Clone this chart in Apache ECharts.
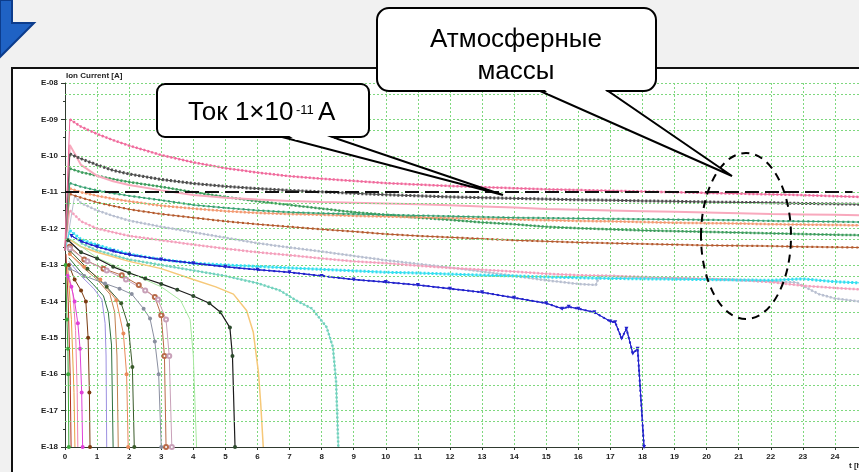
<!DOCTYPE html>
<html>
<head>
<meta charset="utf-8">
<script src="https://cdn.jsdelivr.net/npm/echarts@6/dist/echarts.min.js"></script>
<style>
html,body{margin:0;padding:0;background:#f1f1f1;}
#chart{width:859px;height:472px;}
</style>
</head>
<body>
<div id="chart"></div>
<script>
// time, h (shared by the long-lived masses)
var tLong=[0,0.15,0.5,1,1.5,2,3,4,5,6,7,8,9,10,11,12,13,14,15,16,17,18,19,20,21,22,23,24,24.75];
// all values are log10 of ion current [A]
var pinkTop=[-12.6,-9.0,-9.2,-9.4,-9.57,-9.72,-9.98,-10.18,-10.34,-10.46,-10.56,-10.63,-10.69,-10.75,-10.79,-10.83,-10.86,-10.89,-10.92,-10.94,-10.96,-10.98,-11.0,-11.02,-11.04,-11.06,-11.08,-11.11,-11.13];
var darkGrey=[-12.6,-9.95,-10.08,-10.25,-10.4,-10.5,-10.65,-10.76,-10.84,-10.9,-10.95,-10.99,-11.03,-11.07,-11.1,-11.13,-11.15,-11.17,-11.19,-11.21,-11.22,-11.24,-11.25,-11.27,-11.28,-11.29,-11.31,-11.32,-11.33];
var lightPink=[-12.6,-9.7,-10.25,-10.55,-10.7,-10.8,-10.95,-11.08,-11.15,-11.2,-11.24,-11.27,-11.29,-11.31,-11.33,-11.36,-11.39,-11.42,-11.46,-11.48,-11.5,-11.52,-11.54,-11.56,-11.58,-11.6,-11.61,-11.62,-11.63];
var greenCirc=[-12.6,-10.35,-10.45,-10.55,-10.64,-10.72,-10.85,-11.0,-11.13,-11.25,-11.35,-11.45,-11.55,-11.62,-11.7,-11.76,-11.83,-11.88,-11.95,-11.99,-12.02,-12.05,-12.07,-12.09,-12.11,-12.13,-12.15,-12.17,-12.18];
var greenT=[-12.6,-10.75,-10.85,-10.95,-11.03,-11.1,-11.22,-11.35,-11.43,-11.5,-11.55,-11.58,-11.6,-11.62,-11.64,-11.66,-11.68,-11.7,-11.71,-11.72,-11.73,-11.74,-11.75,-11.76,-11.77,-11.79,-11.8,-11.81,-11.82];
var salmon=[-12.6,-10.9,-11.0,-11.1,-11.18,-11.25,-11.37,-11.45,-11.52,-11.57,-11.6,-11.62,-11.65,-11.67,-11.69,-11.71,-11.73,-11.75,-11.77,-11.79,-11.8,-11.82,-11.84,-11.85,-11.86,-11.88,-11.89,-11.9,-11.91];
var brownT=[-12.6,-11.05,-11.15,-11.28,-11.38,-11.47,-11.6,-11.7,-11.8,-11.88,-11.95,-12.02,-12.08,-12.15,-12.2,-12.24,-12.28,-12.32,-12.35,-12.38,-12.4,-12.42,-12.44,-12.46,-12.47,-12.48,-12.5,-12.51,-12.52];
var pinkLow=[-12.6,-11.5,-11.8,-12.0,-12.1,-12.2,-12.32,-12.44,-12.55,-12.65,-12.73,-12.82,-12.9,-12.95,-13.02,-13.08,-13.13,-13.18,-13.24,-13.28,-13.3,-13.33,-13.36,-13.38,-13.41,-13.47,-13.57,-13.63,-13.67];
var cyan=[-12.6,-12.05,-12.3,-12.45,-12.58,-12.7,-12.85,-12.95,-13.0,-13.04,-13.08,-13.12,-13.16,-13.2,-13.22,-13.25,-13.28,-13.3,-13.33,-13.35,-13.37,-13.38,-13.39,-13.4,-13.41,-13.42,-13.38,-13.46,-13.49];

var tGrey=[0.02,0.3,0.5,1,1.5,2,3,4,5,6,7,8,9,10,11,12,13,14,15,16,16.55,16.65,17,18,19,20,21,22,22.8,23.5,24,24.75];
var grey=[-12.6,-11.1,-11.3,-11.5,-11.65,-11.78,-11.95,-12.1,-12.25,-12.4,-12.52,-12.63,-12.75,-12.87,-12.97,-13.07,-13.18,-13.3,-13.42,-13.52,-13.55,-13.3,-13.3,-13.33,-13.35,-13.38,-13.42,-13.45,-13.48,-13.8,-13.92,-14.0];

var tBlue=[0.2,0.5,1,1.5,2,3,4,5,6,7,8,9,10,11,12,13,14,15,15.5,15.7,16,16.5,17,17.15,17.35,17.5,17.7,17.85,18.05];
var blue=[-12.2,-12.35,-12.5,-12.62,-12.72,-12.85,-12.95,-13.05,-13.13,-13.2,-13.3,-13.4,-13.47,-13.55,-13.65,-13.75,-13.9,-14.05,-14.2,-14.15,-14.2,-14.3,-14.55,-14.57,-15.02,-14.75,-15.43,-15.3,-18];

var tTeal=[0.1,0.5,1,2,3,4,5,6,6.7,7.2,7.7,8.15,8.35,8.45,8.52];
var teal=[-12.1,-12.4,-12.6,-12.85,-13.0,-13.15,-13.3,-13.5,-13.7,-13.97,-14.2,-14.7,-15.25,-16.2,-18];
var tOrange=[0.15,0.5,1,2,3,4,4.7,5.25,5.66,5.87,6.03,6.1,6.18];
var orange=[-12.3,-12.5,-12.65,-12.9,-13.1,-13.4,-13.6,-13.8,-14.25,-14.85,-15.95,-16.8,-18];
var tBlack=[0.1,0.5,1,1.5,2,2.5,3,3.5,4,4.5,4.85,5.14,5.22,5.3];
var black=[-12.32,-12.65,-12.82,-13.05,-13.22,-13.37,-13.52,-13.68,-13.85,-14.05,-14.3,-14.72,-15.5,-18];

// fast-decaying masses: [t, log10 I]
var shortSets=[
    {c:'#3aa83a',s:'circle',d:[[0.02,-13.0],[0.06,-14.5],[0.09,-15.3],[0.1,-16],[0.12,-18]]},
    {c:'#b03020',s:null,d:[[0.03,-12.7],[0.1,-14],[0.16,-16],[0.19,-18]]},
    {c:'#e8a040',s:null,d:[[0.08,-13.0],[0.2,-14.5],[0.28,-16.5],[0.31,-18]]},
    {c:'#f080b0',s:null,d:[[0.1,-13.2],[0.25,-13.8],[0.33,-14.8],[0.38,-16.5],[0.4,-18]]},
    {c:'#e040d8',s:'circle',d:[[0.08,-13.3],[0.2,-13.6],[0.3,-14.0],[0.4,-14.6],[0.47,-15.3],[0.52,-16.5],[0.55,-18]]},
    {c:'#7a3a10',s:'circle',d:[[0.12,-13.0],[0.3,-13.4],[0.5,-13.7],[0.65,-14.0],[0.72,-15],[0.76,-16.5],[0.78,-18]]},
    {c:'#9b8fe0',s:null,d:[[0.12,-12.9],[0.5,-13.3],[0.9,-13.65],[1.15,-13.95],[1.25,-14.6],[1.28,-15.5],[1.3,-18]]},
    {c:'#2f6f3f',s:null,d:[[0.12,-12.8],[0.5,-13.2],[0.9,-13.55],[1.2,-13.85],[1.35,-14.3],[1.45,-15.2],[1.5,-18]]},
    {c:'#c08050',s:null,d:[[0.15,-12.7],[0.6,-13.1],[1.0,-13.4],[1.4,-13.8],[1.55,-14.3],[1.62,-15.5],[1.66,-18]]},
    {c:'#e88a5a',s:'circle',d:[[0.15,-12.7],[0.6,-13.05],[1.1,-13.4],[1.6,-13.97],[1.82,-14.88],[1.92,-16],[1.97,-18]]},
    {c:'#3a5a2a',s:'circle',d:[[0.15,-12.6],[0.7,-13.1],[1.3,-13.6],[1.75,-14.05],[1.97,-14.65],[2.1,-15.8],[2.16,-18]]},
    {c:'#8a8fa0',s:'circle',d:[[0.15,-13.1],[0.6,-13.3],[1.25,-13.51],[1.7,-13.65],[2.08,-13.8],[2.45,-14.2],[2.65,-14.47],[2.8,-15.1],[2.92,-16],[3.0,-18]]},
    {c:'#b86a48',s:'emptyCircle',d:[[0.15,-12.5],[0.6,-12.85],[1.2,-13.1],[1.77,-13.28],[2.3,-13.55],[2.8,-13.88],[3.0,-14.38],[3.1,-15.5],[3.15,-18]]},
    {c:'#c8a0b8',s:'emptyCircle',d:[[0.15,-12.55],[0.7,-12.9],[1.3,-13.15],[1.9,-13.4],[2.5,-13.7],[2.9,-13.95],[3.15,-14.5],[3.25,-15.5],[3.33,-18]]},
    {c:'#a8e8a0',s:null,d:[[0.2,-12.3],[1,-12.8],[2,-13.2],[3,-13.6],[3.6,-13.97],[3.9,-14.5],[4.0,-15.5],[4.1,-18]]}
];

var yTicks=[-18,-8];
var halfGrid=[-8,-9,-10,-11,-12,-13,-14,-15,-16,-17];   // 5E-(n+1) lines
var refLevel=-11;

var font='"Liberation Sans", Arial, sans-serif';
var gridGreen='#7ed87e';
var series=[];

function pts(t,v){
    var d=[];
    for(var i=0;i<t.length;i++) d.push([t[i],v[i]]);
    return d;
}
function addLine(data,color,w,sym,rot){
    series.push({type:'line',data:data,symbol:sym||'none',symbolSize:4,symbolRotate:rot||0,showSymbol:!!sym,
        lineStyle:{color:color,width:w},itemStyle:{color:color},animation:false,silent:true});
}
function addChain(t,v,color,w,dash){                 // imitates the dense marker chain
    addLine(pts(t,v),color,1);
    series.push({type:'line',data:pts(t.slice(1),v.slice(1)),symbol:'none',animation:false,silent:true,
        lineStyle:{color:color,width:w,type:dash||[2,2]}});
}

// extra dotted grid lines at 5E-n
series.push({type:'line',data:[],silent:true,animation:false,
    markLine:{silent:true,symbol:'none',label:{show:false},animation:false,
        lineStyle:{color:gridGreen,type:[2,2],width:1},
        data:halfGrid.map(function(n){return {yAxis:n-Math.log10(2)};})}});

addChain(tGrey,grey,'#b8bfd0',2.5);
addChain(tLong,pinkLow,'#f4a0bc',2.5);
addChain(tTeal,teal,'#72d2bd',2.5);
addLine(pts(tOrange,orange),'#f6c878',1.5);
shortSets.forEach(function(s){ addLine(s.d,s.c,1,s.s); });
addLine(pts(tBlack,black),'#1b1b1b',1.2,'circle');
series[series.length-1].itemStyle={color:'#2c4a2c'};
addChain(tLong,cyan,'#33dff0',3);
addChain(tBlue,blue,'#2323cc',2,[2,3]);
addLine(pts(tBlue,blue),'#2323cc',1,'triangle',180);
addChain(tLong,brownT,'#b4592c',2.2,[2,3]);
addChain(tLong,greenCirc,'#3c9c5c',2.5);
addChain(tLong,salmon,'#f39a72',2.5);
addChain(tLong,greenT,'#35a070',2.2,[2,3]);
addLine(pts(tLong,lightPink),'#f8a9bd',2);
addChain(tLong,darkGrey,'#4d4d4d',3);
addChain(tLong,pinkTop,'#f06a9c',2.5);

// reference level 1E-11
series.push({type:'line',data:[],silent:true,animation:false,
    markLine:{silent:true,symbol:'none',label:{show:false},animation:false,
        lineStyle:{color:'#111',type:[14,6],width:2},
        data:[[{coord:[0,refLevel]},{coord:[24.55,refLevel]}]]}});

var chart=echarts.init(document.getElementById('chart'));
chart.setOption({
    backgroundColor:'#f1f1f1',
    animation:false,
    grid:{left:65,right:0,top:83,bottom:25},
    xAxis:{type:'value',min:0,max:24.75,interval:1,
        axisLine:{lineStyle:{color:'#2f3a2f',width:1}},
        axisTick:{length:3,lineStyle:{color:'#2f3a2f'}},
        axisLabel:{fontSize:8,fontWeight:'bold',color:'#222',margin:6,fontFamily:font,showMaxLabel:false},
        splitLine:{show:true,lineStyle:{color:gridGreen,type:[2,2],width:1}}},
    yAxis:{type:'value',min:yTicks[0],max:yTicks[1],interval:1,
        name:'Ion Current [A]',nameLocation:'end',nameGap:3,
        nameTextStyle:{align:'left',verticalAlign:'bottom',fontSize:8,fontWeight:'bold',color:'#222',fontFamily:font,padding:[0,0,0,1]},
        axisLine:{show:true,lineStyle:{color:'#2f3a2f',width:1}},
        axisTick:{show:true,length:4,lineStyle:{color:'#2f3a2f'}},
        minorTick:{show:true,splitNumber:2,length:2,lineStyle:{color:'#2f3a2f'}},
        axisLabel:{fontSize:8,fontWeight:'bold',color:'#222',margin:7,fontFamily:font,
            formatter:function(v){var n=Math.round(-v);return 'E-'+(n<10?'0':'')+n;}},
        splitLine:{show:true,lineStyle:{color:gridGreen,type:[2,2],width:1}}},
    graphic:[
        {type:'rect',z:-10,silent:true,shape:{x:12,y:68,width:900,height:450},style:{fill:'#fff',stroke:'#111',lineWidth:2}},
        {type:'polygon',z:50,silent:true,shape:{points:[[0,0],[12,0],[12,23],[34,23],[0,57]]},style:{fill:'#1f62c4',stroke:'#0c3c8c',lineWidth:2}},
        // callout 1
        {type:'polygon',z:100,silent:true,shape:{points:[[282,137],[332,137],[503,195]]},style:{fill:'#fff',stroke:'#000',lineWidth:2}},
        {type:'rect',z:101,silent:true,shape:{x:157,y:84,width:212,height:53,r:8},style:{fill:'#fff',stroke:'#000',lineWidth:2}},
        {type:'polygon',z:102,silent:true,shape:{points:[[286,134],[322,134],[337,140],[296,140]]},style:{fill:'#fff'}},
        {type:'text',z:103,silent:true,x:188,y:113,style:{text:'Ток 1×10',font:'26px '+font,fill:'#000',verticalAlign:'middle'}},
        {type:'text',z:103,silent:true,x:296,y:110,style:{text:'-11',font:'13px '+font,fill:'#000',verticalAlign:'middle'}},
        {type:'text',z:103,silent:true,x:318,y:113,style:{text:'A',font:'26px '+font,fill:'#000',verticalAlign:'middle'}},
        // callout 2
        {type:'polygon',z:100,silent:true,shape:{points:[[540,91],[608,91],[732,176]]},style:{fill:'#fff',stroke:'#000',lineWidth:2}},
        {type:'rect',z:101,silent:true,shape:{x:377,y:8,width:279,height:83,r:12},style:{fill:'#fff',stroke:'#000',lineWidth:2}},
        {type:'polygon',z:102,silent:true,shape:{points:[[543,88],[603,88],[609,94],[549,94]]},style:{fill:'#fff'}},
        {type:'text',z:103,silent:true,x:516,y:40,style:{text:'Атмосферные',font:'26px '+font,fill:'#000',align:'center',verticalAlign:'middle'}},
        {type:'text',z:103,silent:true,x:516,y:72,style:{text:'массы',font:'26px '+font,fill:'#000',align:'center',verticalAlign:'middle'}},
        // dashed ellipse round the atmospheric masses
        {type:'ellipse',z:90,silent:true,shape:{cx:746,cy:236,rx:45,ry:83},style:{fill:null,stroke:'#000',lineWidth:2,lineDash:[8,6]}},
        {type:'text',z:60,silent:true,x:849,y:466,style:{text:'t [h]',font:'bold 8px '+font,fill:'#222',verticalAlign:'middle'}}
    ],
    series:series
});
</script>
</body>
</html>
